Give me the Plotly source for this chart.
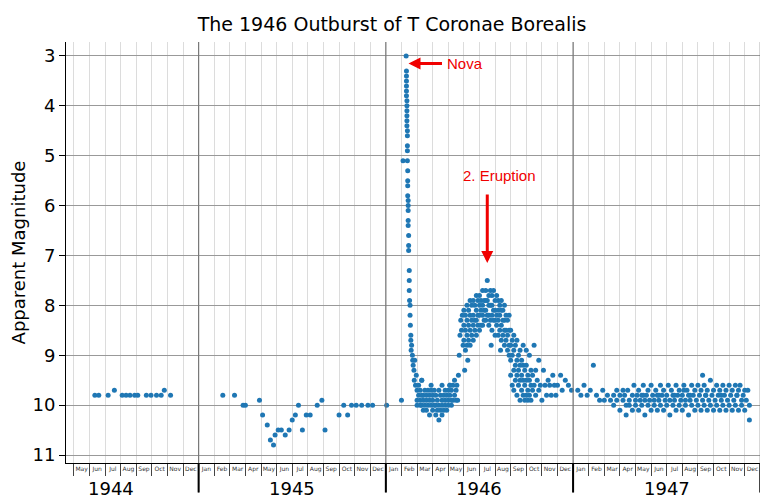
import plotly.graph_objects as go

# x = months since 1 Jan 1944 (decimal), y = apparent magnitude
x_1944 = [5.35, 5.6, 6.2, 6.6, 7.1, 7.35, 7.6, 7.9, 8.1, 8.65, 8.95, 9.3, 9.6, 9.8, 10.2]
y_1944 = [9.8, 9.8, 9.8, 9.7, 9.8, 9.8, 9.8, 9.8, 9.8, 9.8, 9.8, 9.8, 9.8, 9.7, 9.8]

x_1945 = [13.55, 14.3, 14.85, 15.0, 15.9, 16.1, 16.4, 16.6, 16.8, 16.9, 17.1, 17.3, 17.55, 17.8,
          18.0, 18.2, 18.4, 18.65, 18.9, 19.15, 19.6, 19.9, 20.1, 21.0, 21.3, 21.55, 21.8, 22.1,
          22.45, 22.85, 23.15, 24.05, 25.0, 25.1]
y_1945 = [9.8, 9.8, 10.0, 10.0, 9.9, 10.2, 10.4, 10.7, 10.8, 10.6, 10.5, 10.5, 10.6, 10.5,
          10.3, 10.2, 10.0, 10.5, 10.2, 10.2, 10.0, 9.9, 10.5, 10.2, 10.0, 10.2, 10.0, 10.0,
          10.0, 10.0, 10.0, 10.0, 9.9, 5.1]

# nova maximum and fast decline
x_nova = [25.3, 25.32, 25.32, 25.32, 25.32, 25.32, 25.32, 25.35, 25.35, 25.35, 25.35, 25.35, 25.35,
          25.38, 25.38, 25.38, 25.38, 25.38, 25.4, 25.4, 25.4, 25.4, 25.43, 25.43, 25.43, 25.43,
          25.43, 25.46, 25.46, 25.46, 25.5, 25.5, 25.5, 25.52, 25.55, 25.55, 25.57, 25.6, 25.6,
          25.62, 25.65, 25.7, 25.72, 25.75, 25.8, 25.82, 25.85, 25.9, 25.95]
y_nova = [3.0, 3.3, 3.4, 3.5, 3.6, 3.7, 3.8, 3.9, 4.0, 4.1, 4.2, 4.3, 4.4,
          4.5, 4.6, 4.8, 4.9, 5.1, 5.3, 5.5, 5.6, 5.8, 5.9, 6.0, 6.1, 6.3,
          6.4, 6.6, 6.8, 6.9, 7.3, 7.5, 7.7, 7.9, 8.0, 8.2, 8.4, 8.6, 8.7,
          8.9, 8.8, 9.0, 9.1, 9.2, 9.3, 9.5, 9.1, 9.6, 9.4]

# post-nova minimum
x_dip = [26.0, 26.0, 26.0, 26.1, 26.1, 26.2, 26.2, 26.2, 26.3, 26.3, 26.3, 26.4, 26.4, 26.4,
         26.5, 26.5, 26.6, 26.6, 26.6, 26.7, 26.7, 26.8, 26.8, 26.8, 26.9, 26.9, 27.0, 27.0,
         27.0, 27.1, 27.1, 27.2, 27.2, 27.2, 27.3, 27.3, 27.4, 27.4, 27.4, 27.5, 27.5, 27.6,
         27.6, 27.6, 27.7, 27.7, 27.8, 27.8, 27.8, 27.9, 27.9, 28.0, 28.0, 28.0, 28.1, 28.1,
         28.2, 28.2, 28.2, 28.3, 28.3, 28.4, 28.4, 28.5, 28.5, 28.55, 26.3, 26.9, 27.6, 28.1]
y_dip = [9.7, 9.9, 10.0, 9.8, 9.6, 9.7, 9.9, 10.0, 9.8, 10.0, 9.5, 9.8, 9.9, 10.1,
         9.7, 10.0, 9.8, 9.9, 10.1, 9.7, 10.0, 9.8, 9.9, 10.2, 9.7, 10.0, 9.8, 9.9,
         10.1, 9.7, 10.0, 9.8, 10.0, 10.2, 9.9, 10.1, 9.7, 10.0, 10.3, 9.8, 10.1, 9.9,
         10.0, 10.2, 9.8, 10.1, 9.7, 9.9, 10.0, 9.8, 10.1, 9.7, 9.9, 10.0, 9.6, 9.8,
         9.7, 9.9, 10.0, 9.6, 9.9, 9.5, 9.8, 9.7, 9.9, 9.6, 9.5, 9.6, 9.6, 9.6]

# second eruption
x_hump = [28.6, 28.65, 28.7, 28.75, 28.8, 28.85, 28.9, 28.95, 29.0, 29.0, 29.0, 29.1, 29.1, 29.1,
          29.2, 29.2, 29.2, 29.2, 29.3, 29.3, 29.3, 29.4, 29.4, 29.4, 29.4, 29.5, 29.5, 29.5,
          29.6, 29.6, 29.6, 29.6, 29.7, 29.7, 29.7, 29.8, 29.8, 29.8, 29.8, 29.9, 29.9, 29.9,
          30.0, 30.0, 30.0, 30.0, 30.1, 30.1, 30.1, 30.2, 30.2, 30.2, 30.2, 30.3, 30.3, 30.3,
          30.4, 30.4, 30.4, 30.4, 30.5, 30.5, 30.5, 30.6, 30.6, 30.6, 30.6, 30.7, 30.7, 30.7,
          30.8, 30.8, 30.8, 30.8, 30.9, 30.9, 30.9, 31.0, 31.0, 31.0, 31.0, 31.1, 31.1, 31.1,
          31.2, 31.2, 31.2, 31.2, 31.3, 31.3, 31.3, 31.4, 31.4, 31.4, 31.4, 31.5, 31.5, 31.5,
          31.6, 31.6, 31.6, 31.6, 31.7, 31.7, 31.7, 31.8, 31.8, 31.8, 31.9, 31.9, 31.9, 31.9,
          29.05, 29.25, 30.75, 31.35]
y_hump = [9.9, 9.4, 9.0, 8.6, 8.3, 8.5, 8.2, 8.8, 8.1, 8.4, 8.7, 8.2, 8.5, 8.9,
          8.0, 8.3, 8.6, 8.8, 8.1, 8.4, 8.7, 7.9, 8.2, 8.5, 8.8, 8.0, 8.3, 8.6,
          7.9, 8.2, 8.4, 8.7, 8.0, 8.3, 8.5, 7.8, 8.1, 8.3, 8.6, 7.9, 8.2, 8.4,
          7.8, 8.0, 8.2, 8.5, 7.9, 8.1, 8.4, 7.7, 8.0, 8.2, 8.4, 7.9, 8.1, 8.3,
          7.7, 7.9, 8.1, 8.3, 7.5, 7.9, 8.2, 7.8, 8.0, 8.2, 8.4, 7.7, 8.0, 8.3,
          7.8, 8.0, 8.2, 8.5, 7.7, 8.1, 8.3, 7.9, 8.1, 8.3, 8.6, 7.8, 8.2, 8.4,
          7.9, 8.1, 8.3, 8.6, 8.0, 8.2, 8.5, 7.9, 8.1, 8.4, 8.7, 8.1, 8.3, 8.6,
          8.0, 8.3, 8.5, 8.8, 8.2, 8.5, 8.7, 8.3, 8.6, 8.9, 8.2, 8.5, 8.8, 9.0,
          9.3, 9.1, 8.8, 8.9]

# decline back to quiescence
x_fall = [32.0, 32.0, 32.0, 32.0, 32.1, 32.1, 32.1, 32.2, 32.2, 32.2, 32.2, 32.3, 32.3, 32.3,
          32.4, 32.4, 32.4, 32.4, 32.5, 32.5, 32.5, 32.6, 32.6, 32.6, 32.6, 32.7, 32.7, 32.7,
          32.8, 32.8, 32.8, 32.8, 32.9, 32.9, 32.9, 33.0, 33.0, 33.0, 33.0, 33.1, 33.1, 33.1,
          33.2, 33.2, 33.2, 33.3, 33.3, 33.3, 33.4, 33.4, 33.5, 33.5, 33.6, 33.6, 33.7, 33.8,
          33.8, 33.9, 34.0, 34.1, 34.2, 34.3, 34.4, 34.5, 34.6, 34.7, 34.8, 34.9, 35.0, 35.2,
          35.3, 35.5, 35.7, 35.9]
y_fall = [8.5, 8.8, 9.1, 9.4, 8.7, 9.0, 9.6, 8.6, 8.9, 9.3, 9.7, 8.8, 9.2, 9.5,
          8.7, 9.1, 9.4, 9.8, 9.0, 9.3, 9.6, 8.9, 9.2, 9.5, 9.9, 9.1, 9.4, 9.7,
          8.8, 9.2, 9.5, 9.8, 9.3, 9.6, 9.9, 8.9, 9.2, 9.5, 9.8, 9.4, 9.7, 9.9,
          9.0, 9.5, 9.8, 9.3, 9.6, 9.9, 9.4, 9.7, 8.8, 9.6, 9.3, 9.8, 9.5, 9.1,
          9.7, 9.6, 9.9, 9.3, 9.6, 9.8, 9.5, 9.6, 9.8, 9.4, 9.6, 9.8, 9.6, 9.4,
          9.7, 9.5, 9.6, 9.7]

# 1947 quiescence
x_1947 = [36.3, 36.5, 36.7, 36.9, 37.1, 37.3, 37.5, 37.7, 37.9, 38.0, 38.2, 38.4, 38.6, 38.6,
          38.8, 38.8, 39.0, 39.0, 39.2, 39.2, 39.3, 39.4, 39.4, 39.5, 39.6, 39.6, 39.8, 39.8,
          39.9, 40.0, 40.0, 40.1, 40.2, 40.2, 40.3, 40.4, 40.4, 40.5, 40.6, 40.6, 40.7, 40.8,
          40.8, 40.9, 41.0, 41.0, 41.1, 41.2, 41.2, 41.3, 41.4, 41.4, 41.5, 41.6, 41.6, 41.7,
          41.8, 41.8, 41.9, 42.0, 42.0, 42.1, 42.2, 42.2, 42.3, 42.4, 42.4, 42.5, 42.6, 42.6,
          42.7, 42.8, 42.8, 42.9, 43.0, 43.0, 43.1, 43.2, 43.2, 43.3, 43.4, 43.4, 43.5, 43.6,
          43.6, 43.7, 43.8, 43.8, 43.9, 44.0, 44.0, 44.1, 44.2, 44.2, 44.3, 44.4, 44.4, 44.5,
          44.6, 44.6, 44.7, 44.8, 44.8, 44.9, 45.0, 45.0, 45.1, 45.2, 45.2, 45.3, 45.4, 45.4,
          45.5, 45.6, 45.6, 45.7, 45.8, 45.8, 45.9, 46.0, 46.0, 46.1, 46.2, 46.2, 46.3, 46.4,
          46.4, 46.5, 46.6, 46.6, 46.7, 46.8, 46.8, 46.9, 47.0, 47.0, 47.1, 47.2, 47.3, 47.3,
          40.5, 41.5, 42.5, 43.5, 44.5, 45.5, 46.5, 44.3, 43.1]
y_1947 = [9.7, 9.8, 9.6, 9.8, 9.7, 9.2, 9.8, 9.9, 9.7, 9.9, 9.8, 9.9, 9.8, 10.0,
          9.7, 9.9, 9.8, 10.1, 9.7, 9.9, 9.8, 10.0, 10.2, 9.7, 9.9, 10.0, 9.8, 10.1,
          9.6, 9.9, 10.0, 9.8, 9.7, 10.1, 9.9, 9.8, 10.0, 9.6, 9.9, 10.2, 9.8, 9.7,
          10.0, 9.9, 9.6, 10.1, 9.8, 9.9, 10.0, 9.7, 9.8, 10.1, 9.9, 9.6, 10.0, 9.8,
          9.7, 10.1, 9.9, 9.8, 10.0, 9.6, 9.9, 10.2, 9.7, 9.8, 10.0, 9.9, 9.6, 10.1,
          9.8, 9.7, 10.0, 9.9, 9.8, 10.1, 9.6, 9.9, 10.0, 9.7, 9.8, 10.2, 9.9, 9.6,
          10.0, 9.8, 9.7, 10.1, 9.9, 9.6, 10.0, 9.8, 9.7, 10.1, 9.9, 9.6, 10.0, 9.8,
          9.7, 10.1, 9.9, 9.5, 10.0, 9.8, 9.7, 10.1, 9.9, 9.6, 10.0, 9.8, 9.7, 10.1,
          9.9, 9.6, 10.0, 9.8, 9.7, 10.1, 9.9, 9.6, 10.0, 9.8, 9.7, 10.1, 9.9, 9.6,
          10.0, 9.8, 9.7, 10.1, 9.6, 9.9, 10.0, 9.8, 9.7, 10.1, 9.9, 9.7, 10.0, 10.3,
          9.8, 9.8, 9.8, 9.8, 9.8, 9.8, 9.8, 9.4, 9.7]

month_names = ['Jan', 'Feb', 'Mar', 'Apr', 'May', 'Jun', 'Jul', 'Aug', 'Sep', 'Oct', 'Nov', 'Dec']
years = [1944, 1945, 1946, 1947]
first_month = 4   # May 1944
last_month = 48   # end of Dec 1947

xs = x_1944 + x_1945 + x_nova + x_dip + x_hump + x_fall + x_1947
ys = y_1944 + y_1945 + y_nova + y_dip + y_hump + y_fall + y_1947

fig = go.Figure(go.Scatter(x=xs, y=ys, mode='markers',
                           marker=dict(color='#1f77b4', size=5), showlegend=False))

tick_pos = [m + 0.5 for m in range(first_month, last_month)]
tick_txt = [month_names[m % 12] for m in range(first_month, last_month)]

fig.update_xaxes(range=[3.5, 48.3], tickvals=tick_pos, ticktext=tick_txt,
                 tickfont=dict(size=6, color='#333'), ticks='', showgrid=False, automargin=False,
                 minor=dict(tickvals=list(range(first_month, last_month + 1)), showgrid=True,
                            gridcolor='#dcdcdc', ticks='outside', ticklen=12, tickcolor='#444'),
                 showline=True, linecolor='black', zeroline=False)
fig.update_yaxes(range=[11.16, 2.72], tickvals=list(range(3, 12)), tickfont=dict(size=18, color='black'),
                 gridcolor='#999', ticks='outside', ticklen=6, tickcolor='black', automargin=False,
                 showline=True, linecolor='black', zeroline=False,
                 title=dict(text='Apparent Magnitude', font=dict(size=18, color='black'), standoff=4))

# year boundaries
for i, yr in enumerate(years):
    b = 12 * (i + 1)
    fig.add_shape(type='line', x0=b, x1=b, y0=-0.07, y1=1, xref='x', yref='paper',
                  line=dict(color='#777', width=1.2))
    fig.add_shape(type='line', x0=b, x1=b, y0=-0.07, y1=0, xref='x', yref='paper',
                  line=dict(color='black', width=2))
    cx = max(b - 6, first_month + 2.4)
    fig.add_annotation(x=cx, y=-0.03, xref='x', yref='paper', text=str(yr), showarrow=False,
                       yanchor='top', font=dict(size=18, color='black'))

red = '#f00000'
fig.add_annotation(x=25.45, y=3.15, ax=35, ay=0, text='', showarrow=True,
                   arrowhead=2, arrowsize=0.8, arrowwidth=3, arrowcolor=red)
fig.add_annotation(x=27.8, y=3.15, text='Nova', showarrow=False, xanchor='left',
                   font=dict(size=15, color=red, family='Liberation Sans'))
fig.add_annotation(x=30.5, y=7.15, ax=0, ay=-70, text='', showarrow=True,
                   arrowhead=2, arrowsize=0.8, arrowwidth=3, arrowcolor=red)
fig.add_annotation(x=31.3, y=5.4, text='2. Eruption', showarrow=False,
                   font=dict(size=15, color=red, family='Liberation Sans'))

fig.update_layout(width=768, height=502, plot_bgcolor='white', paper_bgcolor='white',
                  margin=dict(l=58, r=11, t=34, b=47),
                  font=dict(family='DejaVu Sans', color='black'),
                  title=dict(text='The 1946 Outburst of T Coronae Borealis', x=0.5, y=0.98,
                             xanchor='center', font=dict(size=19, color='black')))

fig.write_html('out.html')
